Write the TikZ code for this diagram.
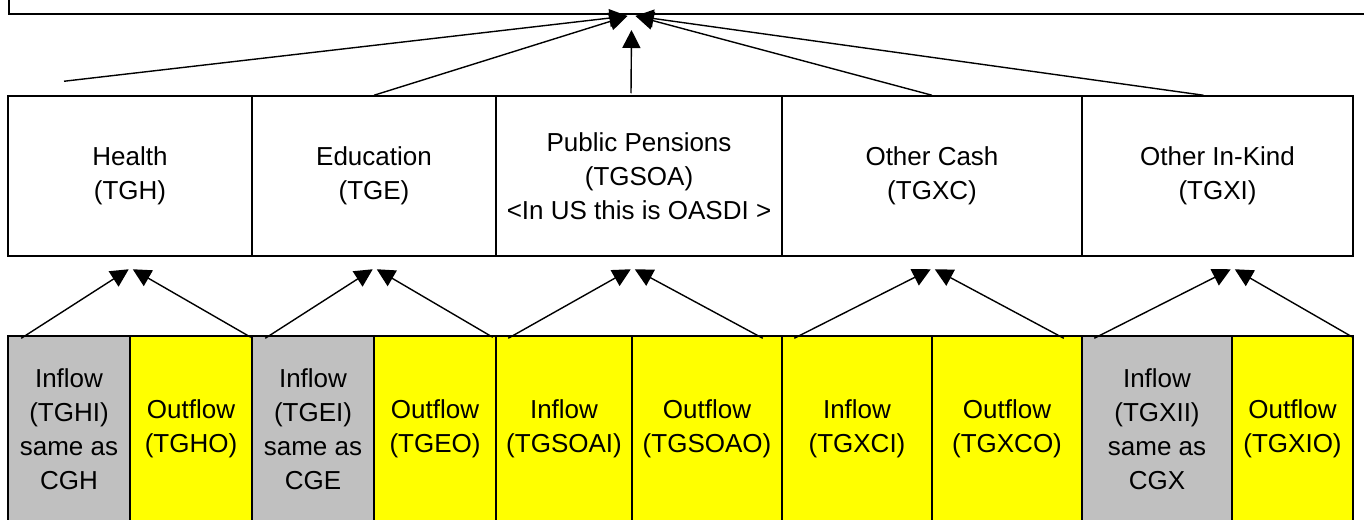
\documentclass[tikz,border=0pt]{standalone}
\usepackage{fontspec}
\setmainfont{Liberation Sans}
\usetikzlibrary{arrows.meta}
\definecolor{inflowgray}{RGB}{192,192,192}
\definecolor{outflowyellow}{RGB}{255,255,0}

\begin{document}
\begin{tikzpicture}[x=0.5pt, y=-0.5pt,
  every node/.style={font=\fontsize{13}{17}\selectfont, align=center},
  box/.style={draw, line width=0.75pt, inner sep=0pt},
  flow/.style={-{Triangle[length=9pt,width=9pt]}, line width=0.7pt}]
  \def\midh{80pt}
  \def\lowh{93pt}
  \useasboundingbox (0,0) rectangle (1364,519);
  %total, cut off at the top
  \node[box, minimum width=700pt, minimum height=60pt, anchor=south west] (total) at (8,15) {};
  \coordinate (apex) at (631.5,16);

  %programs
  \node[box, minimum width=122pt, minimum height=\midh] (health) at (130,176) {Health\\(TGH)};
  \node[box, minimum width=122pt, minimum height=\midh] (edu) at (374,176) {Education\\(TGE)};
  \node[box, minimum width=143pt, minimum height=\midh] (pens) at (639,176) {Public Pensions\\(TGSOA)\\<In US this is OASDI >};
  \node[box, minimum width=150pt, minimum height=\midh] (cash) at (932,176) {Other Cash\\(TGXC)};
  \node[box, minimum width=135.5pt, minimum height=\midh] (kind) at (1217.5,176) {Other In-Kind\\(TGXI)};

  %inflows and outflows
  \node[box, fill=inflowgray, minimum width=61pt, minimum height=\lowh] (hi) at (69,429) {Inflow\\(TGHI)\\same as\\CGH};
  \node[box, fill=outflowyellow, minimum width=61pt, minimum height=\lowh] (ho) at (191,429) {Outflow\\(TGHO)};
  \node[box, fill=inflowgray, minimum width=61pt, minimum height=\lowh] (ei) at (313,429) {Inflow\\(TGEI)\\same as\\CGE};
  \node[box, fill=outflowyellow, minimum width=61pt, minimum height=\lowh] (eo) at (435,429) {Outflow\\(TGEO)};
  \node[box, fill=outflowyellow, minimum width=68pt, minimum height=\lowh] (si) at (564,429) {Inflow\\(TGSOAI)};
  \node[box, fill=outflowyellow, minimum width=75pt, minimum height=\lowh] (so) at (707,429) {Outflow\\(TGSOAO)};
  \node[box, fill=outflowyellow, minimum width=75pt, minimum height=\lowh] (ci) at (857,429) {Inflow\\(TGXCI)};
  \node[box, fill=outflowyellow, minimum width=75pt, minimum height=\lowh] (co) at (1007,429) {Outflow\\(TGXCO)};
  \node[box, fill=inflowgray, minimum width=75pt, minimum height=\lowh] (xi) at (1157,429) {Inflow\\(TGXII)\\same as\\CGX};
  \node[box, fill=outflowyellow, minimum width=60.5pt, minimum height=\lowh] (xo) at (1292.5,429) {Outflow\\(TGXIO)};

  %meeting points below the programs
  \coordinate (happex) at ([shift={(0,-66)}]hi.north east);
  \coordinate (eapex) at ([shift={(0,-66)}]ei.north east);
  \coordinate (sapex) at ([shift={(0,-66)}]si.north east);
  \coordinate (capex) at ([shift={(0,-66)}]ci.north east);
  \coordinate (xapex) at ([shift={(0,-66)}]xi.north east);

  \draw[flow] ([shift={(14,3)}]hi.north west) -- ([shift={(-2,0)}]happex);
  \draw[flow] ([shift={(-2,2)}]ho.north east) -- ([shift={(2,0)}]happex);
  \draw[flow] ([shift={(14,3)}]ei.north west) -- ([shift={(-2,0)}]eapex);
  \draw[flow] ([shift={(-4,2)}]eo.north east) -- ([shift={(2,0)}]eapex);
  \draw[flow] ([shift={(13,3)}]si.north west) -- ([shift={(-2,0)}]sapex);
  \draw[flow] ([shift={(-20,3)}]so.north east) -- ([shift={(2,0)}]sapex);
  \draw[flow] ([shift={(13,3)}]ci.north west) -- ([shift={(-2,0)}]capex);
  \draw[flow] ([shift={(-19,3)}]co.north east) -- ([shift={(2,0)}]capex);
  \draw[flow] ([shift={(13,3)}]xi.north west) -- ([shift={(-2,0)}]xapex);
  \draw[flow] ([shift={(-1,2)}]xo.north east) -- ([shift={(2,0)}]xapex);

  %programs up to the total
  \draw[flow] ([shift={(-66,-14)}]health.north) -- ([shift={(-4,0)}]apex);
  \draw[flow] (edu.north) -- ([shift={(-4,0)}]apex);
  \draw[flow] ([shift={(-8,-2)}]pens.north) -- ([shift={(0,14)}]apex);
  \draw[flow] (cash.north) -- ([shift={(4,0)}]apex);
  \draw[flow] ([shift={(-14,0)}]kind.north) -- ([shift={(4,0)}]apex);
\end{tikzpicture}
\end{document}
